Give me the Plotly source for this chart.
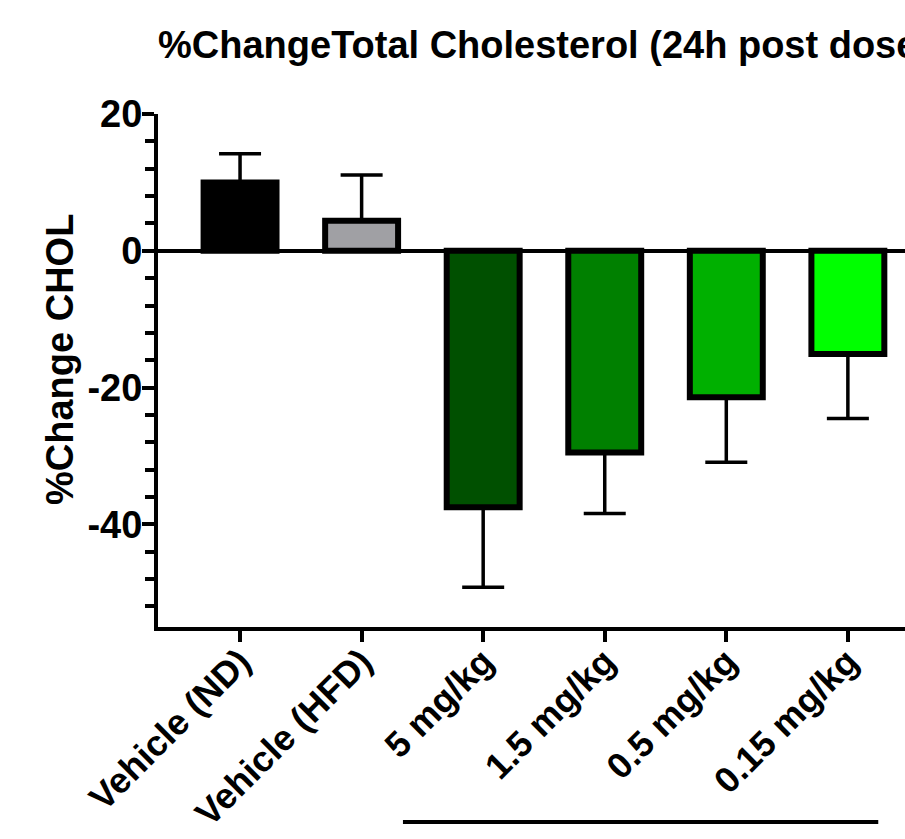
import plotly.graph_objects as go

categories = ["Vehicle (ND)", "Vehicle (HFD)", "5 mg/kg", "1.5 mg/kg", "0.5 mg/kg", "0.15 mg/kg"]
means = [10.0, 4.4, -37.5, -29.5, -21.4, -15.1]
errors = [4.2, 6.7, 11.7, 8.9, 9.5, 9.4]
colors = ["#000000", "#A0A0A4", "#005000", "#008000", "#00B000", "#00FF00"]
y_ticks = [20, 0, -20, -40]

err_up = [e if m >= 0 else 0 for m, e in zip(means, errors)]
err_dn = [0 if m >= 0 else e for m, e in zip(means, errors)]

FONT = "Liberation Sans, Arial, sans-serif"

fig = go.Figure()
fig.add_trace(go.Bar(
    x=categories, y=means, width=0.6,
    marker=dict(color=colors, line=dict(color="black", width=6)),
    error_y=dict(type="data", symmetric=False, array=err_up, arrayminus=err_dn,
                 color="black", thickness=3.5, width=21),
    showlegend=False,
))

W, H = 905, 839
left, top, bottom = 158, 114, 627

fig.update_layout(
    width=W, height=H,
    margin=dict(l=left, r=0, t=top, b=H - bottom, pad=0, autoexpand=False),
    plot_bgcolor="white", paper_bgcolor="white",
    font=dict(family=FONT, color="black"),
    bargap=0.4,
    title=dict(text="<b>%ChangeTotal Cholesterol (24h post dose)</b>",
               x=0, xref="paper", xanchor="left",
               y=1 - 45 / H, yref="container", yanchor="middle",
               font=dict(size=38, family=FONT, color="black")),
    xaxis=dict(
        type="category", range=[-0.675, 5.47], automargin=False,
        showline=True, linecolor="black", linewidth=4,
        ticks="outside", ticklen=11, tickwidth=3.5, tickcolor="black",
        tickangle=-45, tickfont=dict(size=36, family=FONT, color="black"),
        ticklabelstandoff=-16,
        tickprefix="<b>", ticksuffix="</b>",
        showgrid=False, zeroline=False,
    ),
    yaxis=dict(
        range=[-55, 20], tickmode="array", tickvals=y_ticks, automargin=False,
        ticktext=["<b>%d</b>" % v for v in y_ticks],
        showline=True, linecolor="black", linewidth=4,
        ticks="outside", ticklen=12, tickwidth=3.5, tickcolor="black",
        tickfont=dict(size=38, family=FONT, color="black"),
        ticklabelstandoff=-8,
        minor=dict(dtick=4, tick0=0, ticks="outside", ticklen=9, tickwidth=3.5, tickcolor="black"),
        showgrid=False, zeroline=True, zerolinecolor="black", zerolinewidth=4,
    ),
)

# y-axis title
fig.add_annotation(text="<b>%Change CHOL</b>", textangle=-90,
                   x=(60 - left) / (W - left), xref="paper",
                   y=(bottom - 360) / (bottom - top), yref="paper",
                   xanchor="center", yanchor="middle",
                   showarrow=False, font=dict(size=38, family=FONT, color="black"))

# bracket line under dose groups
fig.add_shape(type="line", xref="x", yref="paper",
              x0=1.34, x1=5.25, y0=(bottom - 822) / (bottom - top), y1=(bottom - 822) / (bottom - top),
              line=dict(color="black", width=4))

fig.write_html("out.html")
